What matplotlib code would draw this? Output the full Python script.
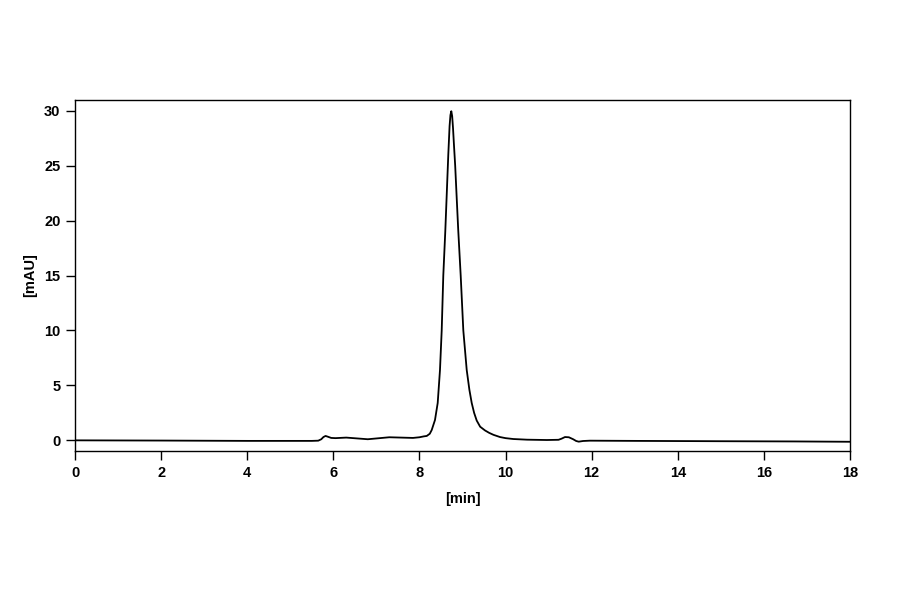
import matplotlib
matplotlib.use("Agg")
import matplotlib.pyplot as plt

# retention time [min] and detector signal [mAU]
time_min = [0.0, 2.0, 4.0, 5.5, 5.65, 5.72, 5.77, 5.82, 5.88, 5.95, 6.05,
            6.3, 6.8, 7.3, 7.85, 8.0, 8.10, 8.17, 8.24, 8.285, 8.361,
            8.424, 8.477, 8.517, 8.554, 8.60, 8.64, 8.67, 8.70, 8.72,
            8.74, 8.76, 8.78, 8.80, 8.83, 8.86, 8.90, 8.958, 9.019,
            9.098, 9.16, 9.214, 9.27, 9.330, 9.41, 9.523, 9.62, 9.72,
            9.871, 10.0, 10.18, 10.5, 10.96, 11.23, 11.30, 11.38, 11.47,
            11.57, 11.64, 11.70, 11.80, 11.96, 13.0, 15.0, 16.7, 18.0]
signal_mau = [0.0, -0.02, -0.05, -0.05, -0.03, 0.10, 0.30, 0.40, 0.32, 0.22, 0.20,
              0.25, 0.10, 0.28, 0.22, 0.28, 0.36, 0.40, 0.60, 0.94, 1.85,
              3.40, 6.40, 10.0, 15.0, 19.0, 23.0, 26.0, 28.6, 29.6,
              29.95, 29.5, 28.4, 27.0, 25.0, 22.5, 19.2, 15.0, 10.0,
              6.4, 4.6, 3.4, 2.5, 1.8, 1.24, 0.90, 0.68, 0.50,
              0.30, 0.20, 0.12, 0.06, 0.03, 0.05, 0.15, 0.30, 0.28,
              0.10, -0.06, -0.12, -0.06, -0.03, -0.05, -0.08, -0.10, -0.13]

x_ticks = [0, 2, 4, 6, 8, 10, 12, 14, 16, 18]
y_ticks = [0, 5, 10, 15, 20, 25, 30]

plt.rcParams['font.family'] = ['Liberation Sans', 'DejaVu Sans']
plt.rcParams['font.weight'] = 'bold'

fig = plt.figure(figsize=(9, 5.94), dpi=100)
ax = fig.add_axes([75/900, 1 - 451/594, 775/900, 351/594])

ax.plot(time_min, signal_mau, color="black", linewidth=1.3)

ax.set_xlim(0, 18)
ax.set_ylim(-0.97, 30.97)
ax.set_xticks(x_ticks)
ax.set_yticks(y_ticks)
ax.tick_params(axis="both", direction="out", length=6.5, width=1.0,
               labelsize=10.5, color="black", pad=4)
for lab in ax.get_xticklabels() + ax.get_yticklabels():
    lab.set_fontweight("bold")
for sp in ax.spines.values():
    sp.set_linewidth(1.0)

ax.set_xlabel("[min]", fontsize=10.5, fontweight="bold", labelpad=9)
ax.set_ylabel("[mAU]", fontsize=10.5, fontweight="bold", labelpad=5)

fig.savefig("out.png", dpi=100)
